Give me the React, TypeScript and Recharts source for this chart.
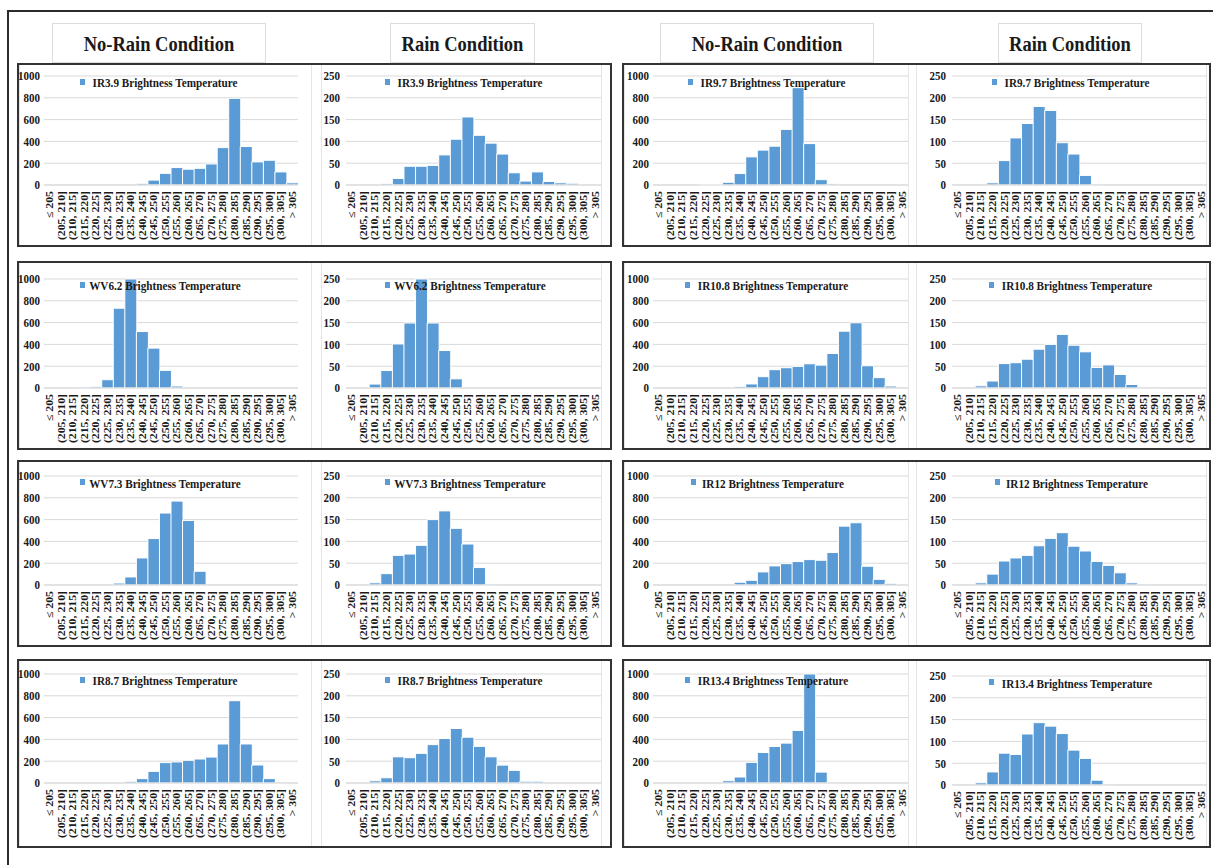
import React from "react";
import { BarChart, Bar, XAxis, YAxis, CartesianGrid } from "recharts";

// Brightness-temperature bins (K)
const BINS = [
  "≤ 205", "(205, 210]", "(210, 215]", "(215, 220]", "(220, 225]", "(225, 230]",
  "(230, 235]", "(235, 240]", "(240, 245]", "(245, 250]", "(250, 255]", "(255, 260]",
  "(260, 265]", "(265, 270]", "(270, 275]", "(275, 280]", "(280, 285]", "(285, 290]",
  "(290, 295]", "(295, 300]", "(300, 305]", "> 305",
];

// Sample counts per bin, no-rain vs rain
const IR39_NO_RAIN = [0, 0, 0, 0, 0, 0, 0, 0, 15, 45, 107, 160, 145, 153, 193, 343, 795, 353, 212, 227, 120, 20];
const IR39_RAIN = [0, 0, 0, 3, 15, 43, 43, 45, 69, 105, 156, 114, 96, 71, 28, 9, 30, 8, 5, 4, 0, 0];
const IR97_NO_RAIN = [0, 0, 0, 0, 5, 5, 25, 105, 258, 320, 356, 510, 893, 380, 49, 10, 0, 0, 0, 0, 0, 0];
const IR97_RAIN = [0, 0, 0, 5, 56, 108, 141, 180, 171, 97, 71, 22, 2, 0, 0, 0, 0, 0, 0, 0, 0, 0];
const WV62_NO_RAIN = [0, 0, 0, 8, 12, 76, 732, 1000, 518, 366, 162, 18, 0, 0, 0, 0, 0, 0, 0, 0, 0, 0];
const WV62_RAIN = [0, 0, 9, 40, 101, 149, 250, 149, 86, 21, 0, 0, 0, 0, 0, 0, 0, 0, 0, 0, 0, 0];
const IR108_NO_RAIN = [0, 0, 0, 0, 0, 0, 0, 15, 37, 104, 168, 186, 198, 222, 210, 317, 521, 598, 204, 95, 18, 0];
const IR108_RAIN = [0, 0, 5, 16, 56, 58, 66, 89, 100, 123, 98, 83, 47, 53, 31, 8, 2, 2, 0, 0, 0, 0];
const WV73_NO_RAIN = [0, 0, 0, 0, 0, 0, 18, 74, 248, 426, 660, 770, 592, 126, 0, 0, 0, 0, 0, 0, 0, 0];
const WV73_RAIN = [0, 0, 5, 26, 68, 71, 91, 150, 170, 130, 94, 40, 2, 0, 0, 0, 0, 0, 0, 0, 0, 0];
const IR12_NO_RAIN = [0, 0, 0, 0, 0, 0, 0, 25, 43, 120, 175, 196, 215, 233, 227, 298, 540, 571, 172, 52, 15, 0];
const IR12_RAIN = [0, 0, 5, 25, 55, 62, 68, 90, 107, 120, 89, 78, 54, 45, 28, 5, 2, 0, 0, 0, 0, 0];
const IR87_NO_RAIN = [0, 0, 0, 0, 0, 0, 0, 15, 40, 107, 187, 193, 208, 220, 238, 358, 755, 358, 165, 40, 8, 0];
const IR87_RAIN = [0, 0, 5, 12, 60, 58, 68, 88, 102, 125, 105, 84, 60, 41, 29, 4, 4, 0, 0, 0, 0, 0];
const IR134_NO_RAIN = [0, 0, 0, 0, 0, 0, 21, 55, 189, 280, 335, 366, 482, 1000, 100, 8, 0, 0, 0, 0, 0, 0];
const IR134_RAIN = [0, 0, 5, 30, 73, 70, 117, 143, 135, 118, 80, 61, 11, 2, 0, 0, 0, 0, 0, 0, 0, 0];

const NO_RAIN_TICKS = [0, 200, 400, 600, 800, 1000];
const RAIN_TICKS = [0, 50, 100, 150, 200, 250];

const BLUE = "#5b9bd5";
const GRID = "#d9d9d9";
const INK = "#1a1a1a";
const SERIF = '"Liberation Serif", "Times New Roman", serif';

// plot-area x extents per column, legend centre per column
const COL_X: [number, number][] = [[44, 298], [346, 601], [653, 908], [952, 1207]];
const LEGEND_CX = [160, 465, 768, 1072];
// plot-area y extents (top gridline, zero line) per row
const ROW_Y: [number, number][] = [[75.5, 184.5], [278.5, 387.5], [476, 585], [673.5, 782.5]];
const FRAME_Y: [number, number][] = [[63, 247], [261, 450], [460, 647], [659, 848]];
const GROUP_X: [number, number][] = [[17, 612], [622, 1211]];
const AREA_X: [number, number][] = [[19, 312], [321, 602], [624, 909], [916, 1207]];

type Panel = { name: string; values: number[]; col: number; row: number; dy?: number };

const PANELS: Panel[] = [
  { name: "IR3.9", values: IR39_NO_RAIN, col: 0, row: 0 },
  { name: "IR3.9", values: IR39_RAIN, col: 1, row: 0 },
  { name: "IR9.7", values: IR97_NO_RAIN, col: 2, row: 0 },
  { name: "IR9.7", values: IR97_RAIN, col: 3, row: 0 },
  { name: "WV6.2", values: WV62_NO_RAIN, col: 0, row: 1 },
  { name: "WV6.2", values: WV62_RAIN, col: 1, row: 1 },
  { name: "IR10.8", values: IR108_NO_RAIN, col: 2, row: 1 },
  { name: "IR10.8", values: IR108_RAIN, col: 3, row: 1 },
  { name: "WV7.3", values: WV73_NO_RAIN, col: 0, row: 2 },
  { name: "WV7.3", values: WV73_RAIN, col: 1, row: 2 },
  { name: "IR12", values: IR12_NO_RAIN, col: 2, row: 2 },
  { name: "IR12", values: IR12_RAIN, col: 3, row: 2 },
  { name: "IR8.7", values: IR87_NO_RAIN, col: 0, row: 3 },
  { name: "IR8.7", values: IR87_RAIN, col: 1, row: 3 },
  { name: "IR13.4", values: IR134_NO_RAIN, col: 2, row: 3 },
  { name: "IR13.4", values: IR134_RAIN, col: 3, row: 3, dy: 2.5 },
];

const HEADERS = [
  { text: "No-Rain Condition", x0: 52, x1: 266 },
  { text: "Rain Condition", x0: 390, x1: 535 },
  { text: "No-Rain Condition", x0: 660, x1: 874 },
  { text: "Rain Condition", x0: 998, x1: 1142 },
];

// the figure's lettering is slightly tall and narrow
const STRETCH = 1.15;

function BinTick({ x, y, payload }: any) {
  return (
    <text
      transform={`translate(${x + 3.5},${y - 2}) rotate(-90) scale(1.18,1)`}
      textAnchor="end"
      fontSize={10}
      fontWeight="bold"
      fontFamily={SERIF}
      fill={INK}
    >
      {payload.value}
    </text>
  );
}

function CountTick({ x, y, payload }: any) {
  return (
    <text
      transform={`translate(${x},${y}) scale(1,${STRETCH})`}
      textAnchor="end"
      dy="0.35em"
      fontSize={11}
      fontWeight="bold"
      fontFamily={SERIF}
      fill={INK}
    >
      {payload.value}
    </text>
  );
}

const Y_AXIS_W = 40;
const M_TOP = 6;
const M_RIGHT = 2;
const X_AXIS_H = 66;

function Histogram({ panel }: { panel: Panel }) {
  const rain = panel.col % 2 === 1;
  const [x0, x1] = COL_X[panel.col];
  const dy = panel.dy ?? 0;
  const y0 = ROW_Y[panel.row][0] + dy;
  const y1 = ROW_Y[panel.row][1] + dy;
  const data = BINS.map((bin, i) => ({ bin, count: panel.values[i] }));
  const ticks = rain ? RAIN_TICKS : NO_RAIN_TICKS;
  const width = Y_AXIS_W + (x1 - x0) + M_RIGHT;
  const height = M_TOP + (y1 - y0) + X_AXIS_H;

  return (
    <div style={{ position: "absolute", left: x0 - Y_AXIS_W, top: y0 - M_TOP }}>
      <BarChart
        width={width}
        height={height}
        data={data}
        margin={{ top: M_TOP, right: M_RIGHT, left: 0, bottom: 0 }}
        barCategoryGap={0}
        barGap={0}
      >
        <CartesianGrid vertical={false} stroke={GRID} />
        <XAxis
          dataKey="bin"
          interval={0}
          height={X_AXIS_H}
          tickLine={false}
          axisLine={{ stroke: GRID }}
          tick={<BinTick />}
        />
        <YAxis
          width={Y_AXIS_W}
          domain={[0, ticks[ticks.length - 1]]}
          ticks={ticks}
          interval={0}
          tickSize={0}
          tickMargin={rain ? 6 : 4}
          tickLine={false}
          axisLine={false}
          tick={<CountTick />}
        />
        <Bar dataKey="count" fill={BLUE} stroke="#fff" strokeWidth={1} isAnimationActive={false} />
      </BarChart>
    </div>
  );
}

function LegendKey({ panel }: { panel: Panel }) {
  const cx = LEGEND_CX[panel.col];
  const cy = ROW_Y[panel.row][0] + (panel.dy ?? 0) + 6.8;
  const w = 180;
  return (
    <svg
      width={w}
      height={18}
      style={{ position: "absolute", left: cx - w / 2, top: cy - 9, overflow: "visible" }}
    >
      <text
        x={w / 2 + 5}
        y={9}
        transform={`translate(0,${9 - 9 * STRETCH}) scale(1,${STRETCH})`}
        textAnchor="middle"
        dy="0.35em"
        fontSize={11.2}
        fontWeight="bold"
        fontFamily={SERIF}
        fill={INK}
      >
        {`${panel.name} Brightness Temperature`}
      </text>
    </svg>
  );
}

function LegendSwatch({ panel }: { panel: Panel }) {
  // swatch sits just left of the centred legend text
  const cx = LEGEND_CX[panel.col];
  const cy = ROW_Y[panel.row][0] + (panel.dy ?? 0) + 6.8;
  const approxHalf = (panel.name.length * 6.4 + 118) / 2;
  return (
    <div
      style={{
        position: "absolute",
        left: cx + 5 - approxHalf - 10,
        top: cy - 3.5,
        width: 5,
        height: 6,
        background: BLUE,
      }}
    />
  );
}

export default function App() {
  return (
    <div
      style={{
        position: "absolute",
        left: 0,
        top: 0,
        width: 1213,
        height: 865,
        background: "#fff",
        overflow: "hidden",
      }}
    >
      {/* outer figure border */}
      <div style={{ position: "absolute", left: 7, top: 10, width: 1210, height: 2, background: "#2b2b2b" }} />
      <div style={{ position: "absolute", left: 7, top: 10, width: 2, height: 860, background: "#2b2b2b" }} />

      {HEADERS.map((h, i) => (
        <div
          key={i}
          style={{
            position: "absolute",
            left: h.x0,
            top: 23,
            width: h.x1 - h.x0,
            height: 40,
            boxSizing: "border-box",
            border: "1px solid #dcdcdc",
            display: "flex",
            alignItems: "center",
            justifyContent: "center",
            fontFamily: SERIF,
            fontWeight: "bold",
            fontSize: 18.5,
            color: INK,
          }}
        >
          <span style={{ display: "inline-block", transform: `scaleY(1.12)`, marginTop: 2 }}>{h.text}</span>
        </div>
      ))}

      {/* light chart-area edges */}
      {FRAME_Y.map(([t, b], r) =>
        AREA_X.map(([l, rr], c) => (
          <div
            key={`a${r}-${c}`}
            style={{
              position: "absolute",
              left: l,
              top: t + 1,
              width: rr - l,
              height: b - t - 2,
              boxSizing: "border-box",
              border: "1px solid #e4e4e4",
            }}
          />
        ))
      )}

      {/* dark frames around each pair of charts */}
      {FRAME_Y.map(([t, b], r) =>
        GROUP_X.map(([l, rr], g) => (
          <div
            key={`f${r}-${g}`}
            style={{
              position: "absolute",
              left: l,
              top: t,
              width: rr - l,
              height: b - t,
              boxSizing: "border-box",
              border: "2px solid #333",
            }}
          />
        ))
      )}

      {PANELS.map((p, i) => (
        <Histogram key={i} panel={p} />
      ))}

      {PANELS.map((p, i) => (
        <React.Fragment key={`l${i}`}>
          <LegendSwatch panel={p} />
          <LegendKey panel={p} />
        </React.Fragment>
      ))}
    </div>
  );
}
